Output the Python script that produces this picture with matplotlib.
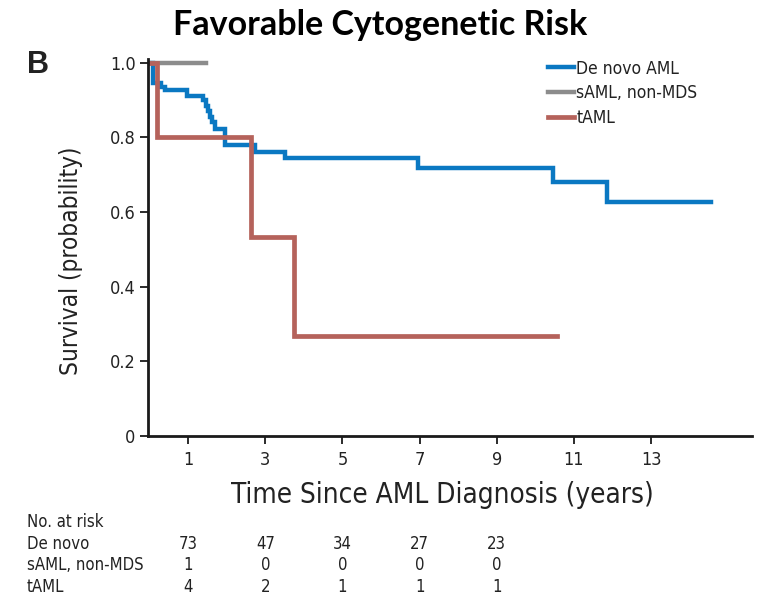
import matplotlib
matplotlib.use("Agg")
from matplotlib import pyplot as plt
from matplotlib import font_manager as fm
from matplotlib.transforms import blended_transform_factory

# Kaplan-Meier step curves (time in years, survival probability)
denovo_t = [0, 0.08, 0.09, 0.30, 0.40, 0.97, 1.38, 1.45, 1.52, 1.57, 1.62, 1.70,
            1.96, 2.74, 3.52, 6.97, 10.45, 11.86, 14.56]
denovo_s = [1.0, 0.986, 0.946, 0.935, 0.926, 0.912, 0.90, 0.885, 0.87, 0.855, 0.84, 0.823,
            0.78, 0.762, 0.745, 0.717, 0.681, 0.627, 0.627]

saml_t = [0, 1.45]
saml_s = [1.0, 1.0]

taml_t = [0, 0.2, 2.63, 3.75, 10.55]
taml_s = [1.0, 0.8, 0.533, 0.267, 0.267]

# numbers at risk
risk_times = [1, 3, 5, 7, 9]
risk_rows = ["De novo", "sAML, non-MDS", "tAML"]
risk_denovo = [73, 47, 34, 27, 23]
risk_saml = [1, 0, 0, 0, 0]
risk_taml = [4, 2, 1, 1, 1]

BLUE = "#0a78c2"
GRAY = "#8c8c8c"
RED = "#b5625b"
INK = "#222222"

names = {f.name for f in fm.fontManager.ttflist}
condensed = [n for n in ["Liberation Sans Narrow", "DejaVu Sans Condensed"] if n in names]
NARROW = condensed + ["DejaVu Sans"]


def narrow(size):
    return fm.FontProperties(family=NARROW, size=size, stretch="condensed")


fig = plt.figure(figsize=(7.61, 5.99), dpi=100)
ax = fig.add_axes([0.1945, 0.272, 0.794, 0.6295])

ax.step(denovo_t, denovo_s, where="post", color=BLUE, lw=3.2, label="De novo AML",
        solid_joinstyle="miter")
ax.step(saml_t, saml_s, where="post", color=GRAY, lw=3.2, label="sAML, non-MDS")
ax.step(taml_t, taml_s, where="post", color=RED, lw=3.4, label="tAML",
        solid_joinstyle="miter")

ax.set_xlim(-0.04, 15.62)
ax.set_ylim(0, 1.01)
ax.set_xticks([1, 3, 5, 7, 9, 11, 13])
ax.set_yticks([0, 0.2, 0.4, 0.6, 0.8, 1.0])
ax.set_yticklabels(["0", "0.2", "0.4", "0.6", "0.8", "1.0"])
for s in ["top", "right"]:
    ax.spines[s].set_visible(False)
for s in ["left", "bottom"]:
    ax.spines[s].set_linewidth(2.0)
    ax.spines[s].set_color("#1a1a1a")
ax.tick_params(direction="out", length=6, width=1.3, color="#1a1a1a", pad=3)
ax.tick_params(axis="x", pad=5)
for lab in ax.get_xticklabels() + ax.get_yticklabels():
    lab.set_fontproperties(narrow(13))
    lab.set_color(INK)

ax.set_xlabel("Time Since AML Diagnosis (years)", fontproperties=narrow(20), color=INK)
ax.set_ylabel("Survival (probability)", fontproperties=narrow(17.5), color=INK)
ax.xaxis.set_label_coords(0.487, -0.118)
ax.yaxis.set_label_coords(-0.108, 0.465)

leg = ax.legend(loc="upper right", bbox_to_anchor=(0.935, 1.04), frameon=False,
                handlelength=1.5, handletextpad=0.12, labelspacing=0.4,
                prop=narrow(12.5))
for t in leg.get_texts():
    t.set_color(INK)

fig.text(0.5, 0.958, "Favorable Cytogenetic Risk", ha="center", va="center",
         fontsize=24.5, fontweight="bold", family=["Lato", "DejaVu Sans"])
fig.text(0.035, 0.892, "B", ha="left", va="center", fontsize=22, fontweight="bold",
         family=["Liberation Sans", "DejaVu Sans"], color=INK)

# number-at-risk table below the axis
tr = blended_transform_factory(ax.transData, fig.transFigure)
row_y = [0.0915, 0.0564, 0.0197]
fig.text(0.035, 0.128, "No. at risk", ha="left", va="center",
         fontproperties=narrow(12), color=INK)
for name, counts, y in zip(risk_rows, [risk_denovo, risk_saml, risk_taml], row_y):
    fig.text(0.035, y, name, ha="left", va="center", fontproperties=narrow(12),
             color=INK)
    for t, n in zip(risk_times, counts):
        ax.text(t, y, str(n), transform=tr, ha="center", va="center",
                fontproperties=narrow(12), color=INK, clip_on=False)

fig.savefig("out.png", dpi=100)
